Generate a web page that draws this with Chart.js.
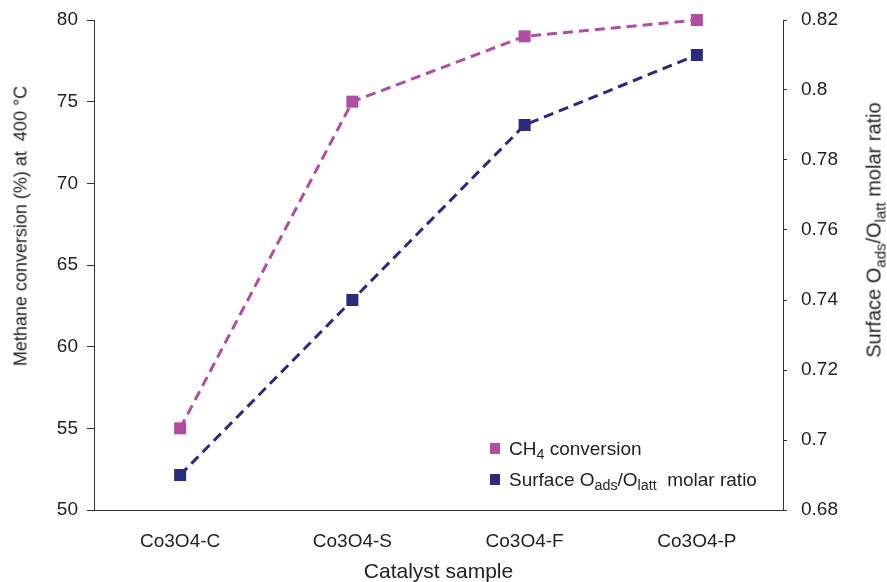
<!DOCTYPE html>
<html>
<head>
<meta charset="utf-8">
<script src="https://cdn.jsdelivr.net/npm/chart.js@4"></script>
<style>
  body { margin: 0; background: #fff; }
  #wrap { position: relative; width: 887px; height: 582px; font-family: "Liberation Sans", Arial, sans-serif; color: #222; }
  .vtitle { position: absolute; white-space: nowrap; transform: translate(-50%, -50%) rotate(-90deg); }
  sub { font-size: 0.75em; vertical-align: -0.3em; line-height: 0; }
  .legend { position: absolute; left: 490px; top: 433px; font-size: 19px; line-height: 31px; }
  .legend .row { display: flex; align-items: center; white-space: nowrap; }
  .legend .box { width: 10px; height: 11px; margin-right: 9px; flex: none; }
</style>
</head>
<body>
<div id="wrap">
  <canvas id="chart" width="887" height="582"></canvas>
  <div class="vtitle" style="left:21px; top:226px; font-size:18px;">Methane conversion (%) at &nbsp;400 °C</div>
  <div class="vtitle" style="left:874px; top:230px; font-size:20px;">Surface O<sub>ads</sub>/O<sub>latt</sub> molar ratio</div>
  <div class="legend">
    <div class="row"><span class="box" style="background:#b04ea2"></span><span>CH<sub>4</sub> conversion</span></div>
    <div class="row"><span class="box" style="background:#2c2a7c"></span><span>Surface O<sub>ads</sub>/O<sub>latt</sub>&nbsp; molar ratio</span></div>
  </div>
</div>
<script>
const categories = ['Co3O4-C', 'Co3O4-S', 'Co3O4-F', 'Co3O4-P'];
const ch4Conversion = [55, 75, 79, 80];
const oxygenRatio = [0.69, 0.74, 0.79, 0.81];
const leftTicks = [50, 55, 60, 65, 70, 75, 80];
const rightTicks = [0.68, 0.70, 0.72, 0.74, 0.76, 0.78, 0.80, 0.82];

const pink = '#b04ea2';
const navy = '#2c2a7c';
const tickFont = { family: '"Liberation Sans", Arial, sans-serif', size: 19 };

const ctx = document.getElementById('chart').getContext('2d');

new Chart(ctx, {
    type: 'line',
    data: {
        labels: categories,
        datasets: [{
            label: 'CH4 conversion',
            data: ch4Conversion,
            yAxisID: 'y',
            borderColor: pink,
            backgroundColor: pink,
            borderWidth: 3,
            borderDash: [10, 6],
            pointStyle: 'rect',
            pointRadius: 8.5,
            pointBorderWidth: 0,
            clip: false
        }, {
            label: 'Surface Oads/Olatt molar ratio',
            data: oxygenRatio,
            yAxisID: 'y1',
            borderColor: navy,
            backgroundColor: navy,
            borderWidth: 3,
            borderDash: [10, 6],
            pointStyle: 'rect',
            pointRadius: 8.5,
            pointBorderWidth: 0,
            clip: false
        }]
    },
    options: {
        responsive: false,
        animation: false,
        layout: { padding: { top: 20, left: 0, right: 0, bottom: 0 } },
        plugins: {
            legend: { display: false },
            tooltip: { enabled: false }
        },
        scales: {
            x: {
                offset: true,
                grid: { display: false },
                border: { display: true, color: '#333', width: 1 },
                ticks: { color: '#222', font: tickFont, padding: 12, maxRotation: 0 },
                title: {
                    display: true,
                    text: 'Catalyst sample',
                    color: '#222',
                    font: { family: tickFont.family, size: 21 },
                    padding: { top: 0, bottom: -3 }
                },
                afterFit: s => { s.height = 72; s.paddingLeft = 0; s.paddingRight = 0; }
            },
            y: {
                position: 'left',
                min: 50,
                max: 80,
                grid: { drawOnChartArea: false, drawTicks: true, tickLength: 7, color: '#333' },
                border: { display: true, color: '#333', width: 1 },
                ticks: { color: '#222', font: tickFont, padding: 9 },
                afterBuildTicks: s => { s.ticks = leftTicks.map(v => ({ value: v })); },
                afterFit: s => { s.width = 94; s.paddingTop = 0; s.paddingBottom = 0; }
            },
            y1: {
                position: 'right',
                min: 0.68,
                max: 0.82,
                grid: { drawOnChartArea: false, drawTicks: true, tickLength: 4, color: '#333' },
                border: { display: true, color: '#333', width: 1 },
                ticks: {
                    color: '#222',
                    font: tickFont,
                    padding: 14,
                    callback: v => String(Number(v.toFixed(2)))
                },
                afterBuildTicks: s => { s.ticks = rightTicks.map(v => ({ value: v })); },
                afterFit: s => { s.width = 104; s.paddingTop = 0; s.paddingBottom = 0; }
            }
        }
    }
});
</script>
</body>
</html>
